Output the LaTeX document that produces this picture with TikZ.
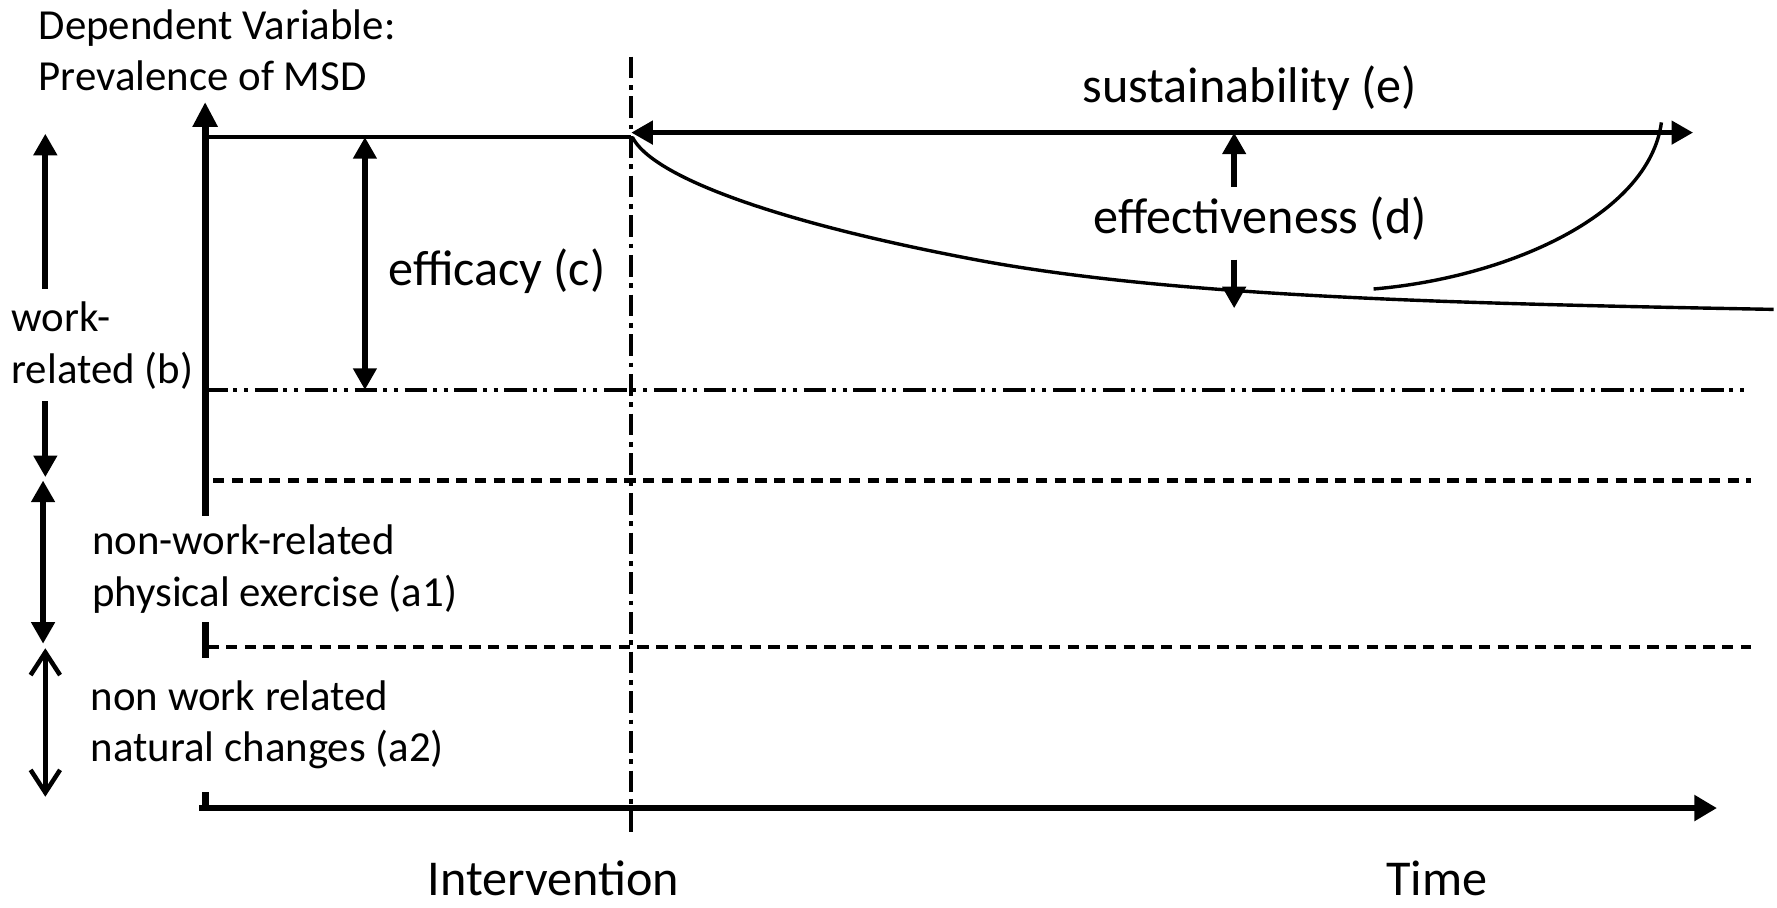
\documentclass[tikz,border=0pt]{standalone}
\usepackage{fontspec}
\setmainfont{Carlito}
\usetikzlibrary{arrows.meta}
\begin{document}
\begin{tikzpicture}[x=1pt,y=-1pt,
  lbl/.style={font=\fontsize{37.8pt}{45.5pt}\selectfont, inner xsep=0pt, inner ysep=0pt, align=left, anchor=base west},
  big/.style={font=\fontsize{44.3pt}{53pt}\selectfont, inner sep=0pt, anchor=base west},
  cover/.style={fill=white},
  ftip/.tip={Triangle[length=19pt,width=20pt]},
  otip/.tip={Straight Barb[length=20pt,width=26pt,line width=4pt]},
  axisline/.style={line width=6pt},
  thinline/.style={line width=3.5pt},
  dimarrow/.style={line width=5pt, {ftip}-{ftip}},
  dashdotdot/.style={line width=4pt, dash pattern=on 20pt off 5pt on 3.5pt off 6pt on 3.5pt off 6pt},
  shortdash/.style={line width=4pt, dash pattern=on 10pt off 6.5pt},
  dashdotv/.style={line width=3.5pt, dash pattern=on 19pt off 6pt on 4pt off 6pt},
  curveline/.style={line width=3pt}
]
\useasboundingbox (0,0) rectangle (1568,801);

% coordinates
\coordinate (O) at (181,713);
\coordinate (Ytop) at (181,90);
\coordinate (Xstart) at (176,713);
\coordinate (Xend) at (1515,713);
\coordinate (Ivt) at (557,50);
\coordinate (Ivb) at (557,735);
\coordinate (T0) at (181,121);
\coordinate (T1) at (557,121);
\coordinate (S0) at (557,117);
\coordinate (S1) at (1494,117);
\coordinate (C0) at (322,121);
\coordinate (C1) at (322,344);
\coordinate (D0) at (1089,117);
\coordinate (D1) at (1089,165);
\coordinate (D2) at (1089,229);
\coordinate (D3) at (1089,272);
\coordinate (L1a) at (40,118);
\coordinate (L1b) at (40,421);
\coordinate (L2a) at (38,424);
\coordinate (L2b) at (38,568);
\coordinate (L3a) at (40,572);
\coordinate (L3b) at (40,703);
\coordinate (B0) at (181,344);
\coordinate (B1) at (1540,344);
\coordinate (P0) at (188,424);
\coordinate (P1) at (1545,424);
\coordinate (Q0) at (183,571);
\coordinate (Q1) at (1545,571);
\coordinate (K0) at (558,121);
\coordinate (K1) at (860,229);
\coordinate (K2) at (1565,273);
\coordinate (R0) at (1212,255);
\coordinate (R1) at (1466,108);

% level lines
\draw[dashdotdot] (B0) -- (B1);
\draw[shortdash] (P0) -- (P1);
\draw[shortdash] (Q0) -- (Q1);

% intervention line
\draw[dashdotv] (Ivt) -- (Ivb);

% axes
\draw[axisline, -{Triangle[length=22pt,width=21pt]}] (O) -- (Ytop);
\draw[axisline, -{Triangle[length=20pt,width=22pt]}] (Xstart) -- (Xend);

% baseline before intervention and efficacy
\draw[thinline] (T0) -- (T1);
\draw[dimarrow] (C0) -- (C1);

% sustainability
\draw[dimarrow] (S0) -- (S1);

% decay curve
\draw[curveline] (K0) .. controls (575,155) and (680,195) .. (K1)
                      .. controls (1040,263) and (1300,268) .. (K2);
% recovery curve
\draw[curveline] (R0) .. controls (1330,245) and (1455,190) .. (R1);

% effectiveness arrows
\draw[line width=5pt, -{ftip}] (D1) -- (D0);
\draw[line width=5pt, -{ftip}] (D2) -- (D3);

% left arrows
\draw[dimarrow] (L1a) -- (L1b);
\draw[dimarrow] (L2a) -- (L2b);
\draw[line width=4.5pt, {otip}-{otip}] (L3a) -- (L3b);

% labels with white background (anchored at last line's baseline)
\node[lbl, cover, inner ysep=11pt] (wr) at (10,338) {work-\\related (b)};
\node[lbl, cover, inner ysep=8pt] (a1) at (81,535) {non-work-related\\physical exercise (a1)};
\node[lbl, cover, inner ysep=20pt] (a2) at (80,672) {non work related\\natural changes (a2)};

% other labels
\node[lbl] (dv) at (34,80) {Dependent Variable:\\Prevalence of MSD};
\node[big] (eff) at (342.6,251.5) {efficacy (c)};
\node[big] (sus) at (955,90.6) {sustainability (e)};
\node[big] (efd) at (965,205.9) {effectiveness (d)};
\node[big] (int) at (377,790) {Intervention};
\node[big] (tim) at (1223,790) {Time};
\end{tikzpicture}
\end{document}
